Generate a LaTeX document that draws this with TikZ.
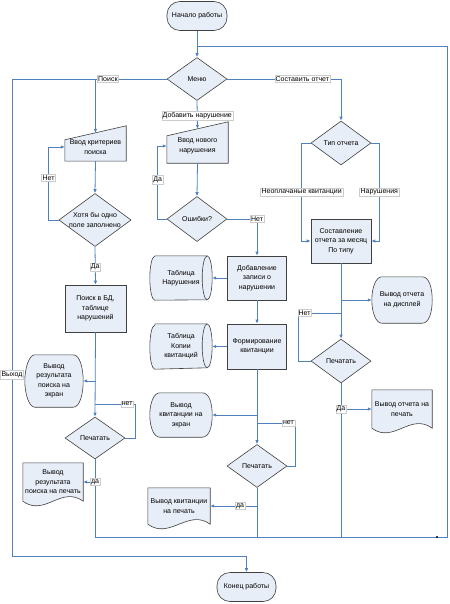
\documentclass[tikz,border=0pt]{standalone}
\usepackage{fontspec}
\setmainfont{Liberation Sans}
\usetikzlibrary{positioning,shapes.geometric,calc,arrows.meta,backgrounds}

\definecolor{lineblue}{RGB}{79,129,189}
\definecolor{boxfill}{RGB}{232,238,247}

\begin{document}
\begin{tikzpicture}[x=1pt,y=-1pt,>={Latex[length=4pt,width=3.5pt]},
    font=\fontsize{7}{9.5}\selectfont,
    shp/.style={draw=black!75,fill=boxfill,line width=0.6pt},
    term/.style={shp,rounded corners=13pt,minimum width=60pt,minimum height=29pt,inner sep=1pt},
    proc/.style={shp,minimum width=60pt,minimum height=45pt,align=center,inner sep=1pt},
    dec/.style={shp,diamond,aspect=1.4,inner sep=0pt,minimum width=60pt,minimum height=43pt,align=center},
    txt/.style={align=center,inner sep=1pt},
    lbl/.style={fill=white,draw=black!20,line width=0.3pt,inner sep=1pt,font=\fontsize{7}{8}\selectfont},
    con/.style={draw=lineblue,line width=0.8pt}]
  \useasboundingbox (0,0) rectangle (449,604);

  % start and menu
  \node[term] (start) at (197,16) {Начало работы};
  \node[dec] (menu) at (197,79) {Меню};

  % search branch
  \node[txt,minimum width=61pt,minimum height=28pt] (inSearch) at (95.5,147) {Ввод критериев\\поиска};
  \node[dec,minimum width=70pt,minimum height=53pt] (chk) at (95,220) {Хотя бы одно\\поле заполнено};
  \node[proc,minimum width=61pt,minimum height=47pt] (dbSearch) at (95.5,308.5) {Поиск в БД,\\таблице\\нарушений};
  \node[txt,minimum width=58pt,minimum height=52pt] (scrSearch) at (54,381) {Вывод\\результата\\поиска на\\экран};
  \node[dec,minimum height=42pt] (prnSearch) at (95,438) {Печатать};
  \node[txt,minimum width=60pt,minimum height=38pt] (docSearch) at (53,482) {Вывод\\результата\\поиска на печать};

  % violation branch
  \node[txt,minimum width=61pt,minimum height=34pt] (inNew) at (197.5,146) {Ввод нового\\нарушения};
  \node[dec,minimum height=45pt] (err) at (197,219) {Ошибки?};
  \node[proc,minimum width=59pt,minimum height=44pt] (addRec) at (257,278) {Добавление\\записи о\\нарушении};
  \node[txt,minimum width=62pt,minimum height=44pt] (tblViol) at (181,278) {Таблица\\Нарушения};
  \node[proc,minimum width=59pt] (mkRcpt) at (257,346.5) {Формирование\\квитанции};
  \node[txt,minimum width=62pt,minimum height=45pt] (tblCopy) at (181,346.5) {Таблица\\Копии\\квитанций};
  \node[txt,minimum width=62pt,minimum height=44pt] (scrRcpt) at (181,415) {Вывод\\квитанции на\\экран};
  \node[dec] (prnRcpt) at (257,466) {Печатать};
  \node[txt,minimum width=62pt,minimum height=36pt] (docRcpt) at (179,506) {Вывод квитанции\\на печать};

  % report branch
  \node[dec,minimum height=44pt] (type) at (341,143) {Тип отчета};
  \node[proc,minimum height=44pt] (mkRep) at (341,241) {Составление\\отчета за месяц\\По типу};
  \node[txt,minimum width=60pt,minimum height=46pt] (scrRep) at (402,300) {Вывод отчета\\на дисплей};
  \node[dec,minimum height=44pt] (prnRep) at (341,361) {Печатать};
  \node[txt,minimum width=60pt,minimum height=38pt] (docRep) at (402,409) {Вывод отчета на\\печать};

  \node[term,minimum width=59pt] (finish) at (246.5,587) {Конец работы};

  % outlines of the special shapes
  \begin{scope}[on background layer]
    \foreach \n in {inSearch,inNew}
      \draw[shp] (\n.south west) -- (\n.south east) -- ($(\n.north east)+(0,-7)$)
        -- ($(\n.north west)+(0,7)$) -- cycle;
    \foreach \n in {scrSearch,scrRcpt,scrRep}
      \draw[shp] ($(\n.north west)+(10,0)$) -- ($(\n.north east)+(-10,0)$)
        .. controls +(7,0) and +(0,-12) .. (\n.east)
        .. controls +(0,12) and +(7,0) .. ($(\n.south east)+(-10,0)$)
        -- ($(\n.south west)+(10,0)$)
        .. controls +(-6,0) and +(0,12) .. (\n.west)
        .. controls +(0,-12) and +(-6,0) .. ($(\n.north west)+(10,0)$) -- cycle;
    \foreach \n in {docSearch,docRcpt,docRep}
      \draw[shp] (\n.south west) -- (\n.north west) -- (\n.north east) -- (\n.south east)
        .. controls +(-22,-16) and +(22,16) .. (\n.south west) -- cycle;
    \foreach \n in {tblViol,tblCopy} {
      \draw[shp] ($(\n.north west)+(5,0)$) -- ($(\n.north east)+(-5,0)$)
        arc[start angle=-90,end angle=90,x radius=5,y radius=22]
        -- ($(\n.south west)+(5,0)$)
        arc[start angle=90,end angle=270,x radius=5,y radius=22] -- cycle;
      \draw[shp,fill=none] ($(\n.north east)+(-5,0)$)
        arc[start angle=-90,end angle=-270,x radius=5,y radius=22];
    }
  \end{scope}

  \coordinate (loopT) at (197,46);
  \coordinate (loopB) at (447,537);
  \coordinate (exitC) at (12,556);
  \coordinate (dot) at (437,537);
  \coordinate (jS) at (95,404);
  \coordinate (jM) at (257,423);
  \coordinate (jR) at (341,313);

  % main loop
  \draw[con] (prnSearch.south) |- (loopB) |- (loopT);
  \draw[con] (prnRcpt.south) -- (prnRcpt.south |- loopB);
  \draw[con] (prnRep.south) -- (prnRep.south |- loopB);
  \fill (dot) circle (1.2pt);
  \draw[con,->] (start) -- (menu);
  \draw[con,->] (menu.west) -| node[lbl,pos=0.19]{Поиск} node[lbl,pos=0.81]{Выход} (exitC) -| (finish.north);
  \draw[con,->] (inSearch.north |- menu.west) -- (inSearch.north);
  \draw[con,->] (menu.south) -- node[lbl,pos=0.54]{Добавить нарушение} (inNew.north);
  \draw[con,->] (menu.east) -| node[lbl,pos=0.33]{Составить отчет} (type.north);

  % search
  \draw[con,->] (inSearch.south) -- (chk.north);
  \draw[con,->] (chk.west) -- ++(-10,0) |- node[lbl,pos=0.29]{Нет} (inSearch.west);
  \draw[con,->] (chk.south) -- node[lbl,pos=0.53]{Да} (dbSearch.north);
  \draw[con,->] (dbSearch.south) -- (prnSearch.north);
  \draw[con,->] (dbSearch.south |- scrSearch.east) -- (scrSearch.east);
  \draw[con] (prnSearch.east) -- ++(10,0) |- node[lbl,pos=0.6]{нет} (jS);
  \draw[con,->] (prnSearch.south) |- node[lbl]{да} (docSearch.east);

  % violations
  \draw[con,->] (inNew.south) -- (err.north);
  \draw[con,->] (err.west) -- ++(-9,0) |- node[lbl,pos=0.27]{Да} (inNew.west);
  \draw[con,->] (err.east) -| node[lbl]{Нет} (addRec.north);
  \draw[con,->] (addRec.west) -- (tblViol.east);
  \draw[con,->] (addRec.south) -- (mkRcpt.north);
  \draw[con,->] (mkRcpt.west) -- (tblCopy.east);
  \draw[con,->] (mkRcpt.south) -- (prnRcpt.north);
  \draw[con,->] (mkRcpt.south |- scrRcpt.east) -- (scrRcpt.east);
  \draw[con] (prnRcpt.east) -- ++(8,0) |- node[lbl,pos=0.59]{нет} (jM);
  \draw[con,->] (prnRcpt.south) |- node[lbl,pos=0.68]{да} (docRcpt.east);

  % report
  \draw[con,->] (type.west) -- ++(-9,0) |- node[lbl,pos=0.25]{Неоплачаные квитанции} (mkRep.west);
  \draw[con,->] (type.east) -- ++(8,0) |- node[lbl,pos=0.25]{Нарушения} (mkRep.east);
  \draw[con,->] (mkRep.south) -- (prnRep.north);
  \draw[con,->] (mkRep.south |- scrRep.west) -- (scrRep.west);
  \draw[con] (prnRep.west) -- ++(-12,0) |- node[lbl,pos=0.57]{Нет} (jR);
  \draw[con,->] (prnRep.south) |- node[lbl]{Да} (docRep.west);
\end{tikzpicture}
\end{document}
